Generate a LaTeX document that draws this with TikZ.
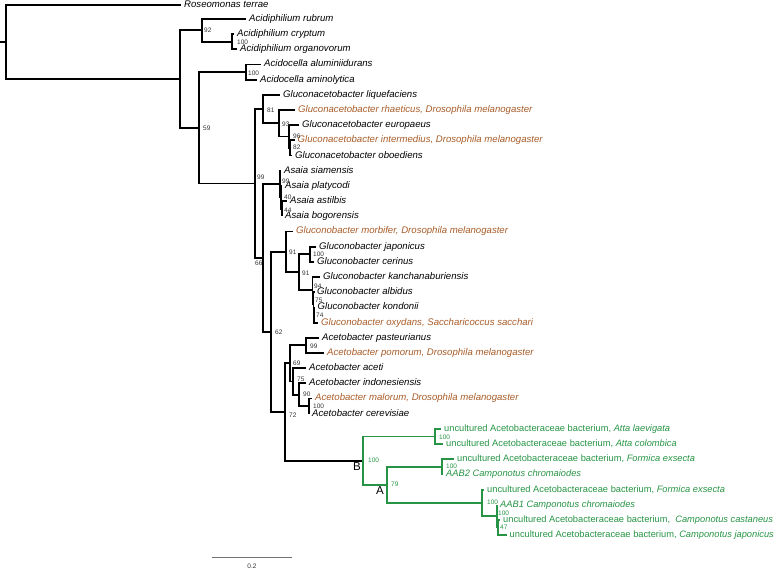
\documentclass[tikz,border=0pt]{standalone}
\usepackage{fontspec}
\setmainfont{Liberation Sans}
\definecolor{flybrown}{RGB}{168,92,40}
\definecolor{antgreen}{RGB}{38,148,68}
\newcommand{\uncab}{\textup{uncultured Acetobacteraceae bacterium,}}

\begin{document}
\begin{tikzpicture}[
    x=1pt, y=-1pt,
    % Branch and label styles
    branch/.style={line width=1.8pt, line join=miter},
    gbranch/.style={branch, draw=antgreen},
    taxon/.style={anchor=west, inner xsep=3pt, inner ysep=0pt, text height=6.9pt, text depth=2pt, font=\fontsize{9.6}{10}\selectfont\itshape},
    fly/.style={taxon, text=flybrown},
    ant/.style={taxon, text=antgreen, font=\fontsize{9.3}{10}\selectfont\itshape},
    boot/.style={anchor=west, inner sep=0pt, font=\fontsize{6.5}{7}\selectfont, text=black!80},
    gboot/.style={boot, text=antgreen},
    clade/.style={inner sep=0pt, font=\fontsize{11.5}{12}\selectfont},
    scalebar/.style={line width=0.8pt, draw=black!55}
]
\useasboundingbox (0,0) rectangle (778,569);

% 1. Internal nodes of the tree
\coordinate (stub) at (0,42);
\coordinate (root) at (6,42);
\coordinate (n1) at (180,79.1);
\coordinate (acph) at (202,30.4);
\coordinate (acph2) at (232,41.8);
\coordinate (n2) at (199,127.8);
\coordinate (acdc) at (246,72.1);
\coordinate (n3) at (255,183.5);
\coordinate (gab1) at (263,109.1);
\coordinate (gab2) at (279,123.3);
\coordinate (gab3) at (289,136.6);
\coordinate (gab4) at (290,148);
\coordinate (n4) at (263,258);
\coordinate (asa1) at (280,184);
\coordinate (asa2) at (281,197.3);
\coordinate (asa3) at (282,208.7);
\coordinate (n5) at (271,332);
\coordinate (gob1) at (286,251.9);
\coordinate (gob2) at (299,272.3);
\coordinate (gob3) at (310,254.2);
\coordinate (gob4) at (312.5,290.3);
\coordinate (gob5) at (313.5,303.6);
\coordinate (gob6) at (314,315);
\coordinate (n6) at (285,412);
\coordinate (acb0) at (306,345.3);
\coordinate (acb1) at (290,363.3);
\coordinate (acb2) at (293,381.4);
\coordinate (acb3) at (299,394.6);
\coordinate (acb4) at (309,406);
\coordinate (cladeB) at (363,460.6);
\coordinate (atta) at (435,436.4);
\coordinate (cladeA) at (387,484.8);
\coordinate (aab2) at (442,466.7);
\coordinate (form) at (482,502.8);
\coordinate (aab1) at (497,516.1);
\coordinate (camp) at (498,527.5);

% 2. Leaves (one row each)
\node[taxon] (rose) at (181,5) {Roseomonas terrae};
\node[taxon] (acrub) at (246,19) {Acidiphilium rubrum};
\node[taxon] (accry) at (234,34.2) {Acidiphilium cryptum};
\node[taxon] (acorg) at (237,49.4) {Acidiphilium organovorum};
\node[taxon] (acalu) at (261,64.5) {Acidocella aluminiidurans};
\node[taxon] (acami) at (257,79.7) {Acidocella aminolytica};
\node[taxon] (galiq) at (280,94.9) {Gluconacetobacter liquefaciens};
\node[fly] (garha) at (295,110.1) {Gluconacetobacter rhaeticus, Drosophila melanogaster};
\node[taxon] (gaeur) at (299,125.3) {Gluconacetobacter europaeus};
\node[fly] (gaint) at (294.5,140.4) {Gluconacetobacter intermedius, Drosophila melanogaster};
\node[taxon] (gaobo) at (292,155.6) {Gluconacetobacter oboediens};
\node[taxon] (assia) at (281,170.8) {Asaia siamensis};
\node[taxon] (aspla) at (282,186) {Asaia platycodi};
\node[taxon] (asast) at (287,201.2) {Asaia astilbis};
\node[taxon] (asbog) at (282,216.3) {Asaia bogorensis};
\node[fly] (gbmor) at (293,231.5) {Gluconobacter morbifer, Drosophila melanogaster};
\node[taxon] (gbjap) at (316,246.7) {Gluconobacter japonicus};
\node[taxon] (gbcer) at (314,261.9) {Gluconobacter cerinus};
\node[taxon] (gbkan) at (320,277.1) {Gluconobacter kanchanaburiensis};
\node[taxon] (gbalb) at (314,292.2) {Gluconobacter albidus};
\node[taxon] (gbkon) at (314.5,307.4) {Gluconobacter kondonii};
\node[fly] (gboxy) at (318,322.6) {Gluconobacter oxydans, Saccharicoccus sacchari};
\node[taxon] (acpas) at (319,337.8) {Acetobacter pasteurianus};
\node[fly] (acpom) at (324,353) {Acetobacter pomorum, Drosophila melanogaster};
\node[taxon] (acace) at (306,368.1) {Acetobacter aceti};
\node[taxon] (acind) at (306,383.3) {Acetobacter indonesiensis};
\node[fly] (acmal) at (312,398.5) {Acetobacter malorum, Drosophila melanogaster};
\node[taxon] (accer) at (309,413.7) {Acetobacter cerevisiae};
\node[ant] (unlae) at (441,428.9) {\uncab{} Atta laevigata};
\node[ant] (uncol) at (443,444) {\uncab{} Atta colombica};
\node[ant] (unfor) at (454,459.2) {\uncab{} Formica exsecta};
\node[ant] (unaab2) at (443,474.4) {AAB2 Camponotus chromaiodes};
\node[ant] (unfor2) at (484,489.6) {\uncab{} Formica exsecta};
\node[ant] (unaab1) at (497,504.8) {AAB1 Camponotus chromaiodes};
\node[ant] (uncas) at (500,519.9) {\uncab\ \ Camponotus castaneus};
\node[ant] (unjap) at (506.5,535.1) {\uncab{} Camponotus japonicus};

% 3. Black branches
\draw[branch] (stub) -- (root);
\draw[branch] (root) |- (rose.west) (root) |- (n1);
\draw[branch] (n1) |- (acph) (n1) |- (n2);
\draw[branch] (acph) |- (acrub.west) (acph) |- (acph2);
\draw[branch] (acph2) |- (accry.west) (acph2) |- (acorg.west);
\draw[branch] (n2) |- (acdc) (n2) |- (n3);
\draw[branch] (acdc) |- (acalu.west) (acdc) |- (acami.west);
\draw[branch] (n3) |- (gab1) (n3) |- (n4);
\draw[branch] (gab1) |- (galiq.west) (gab1) |- (gab2);
\draw[branch] (gab2) |- (garha.west) (gab2) |- (gab3);
\draw[branch] (gab3) |- (gaeur.west) (gab3) |- (gab4);
\draw[branch] (gab4) |- (gaint.west) (gab4) |- (gaobo.west);
\draw[branch] (n4) |- (asa1) (n4) |- (n5);
\draw[branch] (asa1) |- (assia.west) (asa1) |- (asa2);
\draw[branch] (asa2) |- (aspla.west) (asa2) |- (asa3);
\draw[branch] (asa3) |- (asast.west) (asa3) |- (asbog.west);
\draw[branch] (n5) |- (gob1) (n5) |- (n6);
\draw[branch] (gob1) |- (gbmor.west) (gob1) |- (gob2);
\draw[branch] (gob2) |- (gob3) (gob2) |- (gob4);
\draw[branch] (gob3) |- (gbjap.west) (gob3) |- (gbcer.west);
\draw[branch] (gob4) |- (gbkan.west) (gob4) |- (gob5);
\draw[branch] (gob5) |- (gbalb.west) (gob5) |- (gob6);
\draw[branch] (gob6) |- (gbkon.west) (gob6) |- (gboxy.west);
\draw[branch] (n6) |- (acb1) (n6) |- (cladeB);
\draw[branch] (acb1) |- (acb0) (acb1) |- (acb2);
\draw[branch] (acb0) |- (acpas.west) (acb0) |- (acpom.west);
\draw[branch] (acb2) |- (acace.west) (acb2) |- (acb3);
\draw[branch] (acb3) |- (acind.west) (acb3) |- (acb4);
\draw[branch] (acb4) |- (acmal.west) (acb4) |- (accer.west);

% 4. Green branches (ant clade)
\draw[gbranch] (cladeB) |- (atta) (cladeB) |- (cladeA);
\draw[gbranch] (atta) |- (unlae.west) (atta) |- (uncol.west);
\draw[gbranch] (cladeA) |- (aab2) (cladeA) |- (form);
\draw[gbranch] (aab2) |- (unfor.west) (aab2) |- (unaab2.west);
\draw[gbranch] (form) |- (unfor2.west) (form) |- (aab1);
\draw[gbranch] (aab1) |- (unaab1.west) (aab1) |- (camp);
\draw[gbranch] (camp) |- (uncas.west) (camp) |- (unjap.west);

% 5. Bootstrap values
\node[boot] (bsAcph) at (204,30.7) {92};
\node[boot] (bsAcph2) at (237,42.7) {100};
\node[boot] (bsAcdc) at (248,73) {100};
\node[boot] (bsN2) at (203,128) {59};
\node[boot] (bsGab1) at (267,110) {81};
\node[boot] (bsGab2) at (282,124) {93};
\node[boot] (bsGab3) at (293,136.5) {96};
\node[boot] (bsGab4) at (293,147.5) {82};
\node[boot] (bsN3) at (257,177) {99};
\node[boot] (bsAsa1) at (282,181) {99};
\node[boot] (bsAsa2) at (284,197) {40};
\node[boot] (bsAsa3) at (284,210) {44};
\node[boot] (bsN4) at (255,263) {66};
\node[boot] (bsGob1) at (289,252) {91};
\node[boot] (bsGob3) at (313,254) {100};
\node[boot] (bsGob2) at (302,273) {91};
\node[boot] (bsGob4) at (314,286) {94};
\node[boot] (bsGob5) at (315,300) {75};
\node[boot] (bsGob6) at (316,315) {74};
\node[boot] (bsN5) at (275,332) {62};
\node[boot] (bsAcb0) at (310,346) {99};
\node[boot] (bsAcb1) at (293,363) {69};
\node[boot] (bsAcb2) at (297,379) {75};
\node[boot] (bsAcb3) at (303,394) {90};
\node[boot] (bsAcb4) at (313,406) {100};
\node[boot] (bsN6) at (289,415) {72};
\node[gboot] (bsB) at (368,460) {100};
\node[gboot] (bsAtta) at (439,437) {100};
\node[gboot] (bsA) at (391,484) {79};
\node[gboot] (bsAab2) at (446,466) {100};
\node[gboot] (bsForm) at (487,502) {100};
\node[gboot] (bsAab1) at (498,513) {100};
\node[gboot] (bsCamp) at (500,527) {47};

% 6. Clade letters
\node[clade] (labB) at (357,467) {B};
\node[clade] (labA) at (380,491) {A};

% 7. Scale bar
\coordinate (sbL) at (212,557.5);
\coordinate (sbR) at (292,557.5);
\draw[scalebar] (sbL) -- (sbR);
\node[boot, anchor=center] (sbText) at (252,566) {0.2};

\end{tikzpicture}
\end{document}
